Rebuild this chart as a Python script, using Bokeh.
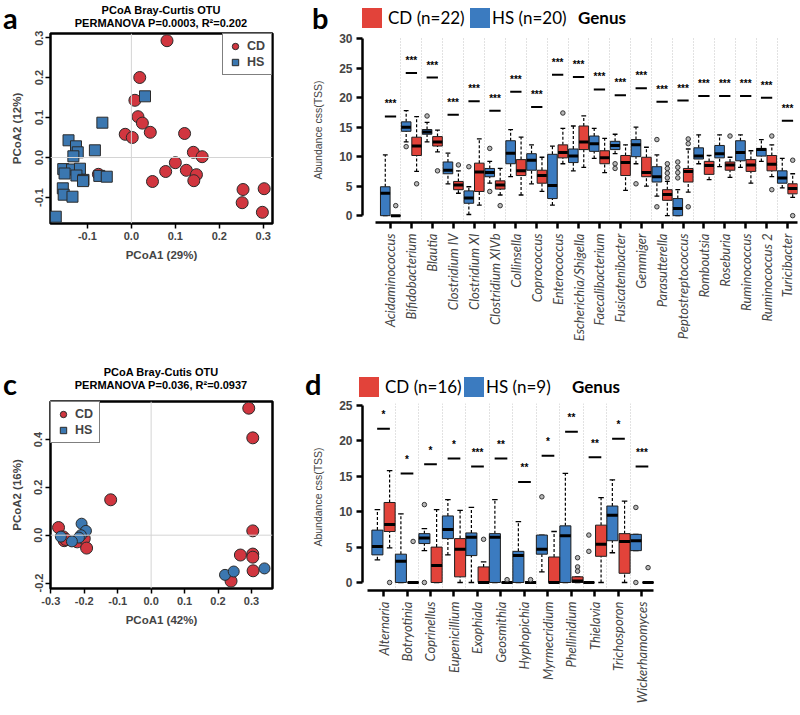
import math
from bokeh.plotting import figure
from bokeh.models import (Range1d, FixedTicker, PrintfTickFormatter, Span,
                          Legend, LegendItem, ColumnDataSource, Div)
from bokeh.layouts import row, column
from bokeh.embed import file_html
from bokeh.resources import INLINE

# ---------------- data : panel a ----------------
a_cd_x = [0.081, 0.019, 0.008, 0.015, 0.025, -0.014, 0.002, 0.043, 0.121, 0.141, 0.161,
          0.100, 0.078, 0.125, 0.148, 0.142, 0.048, -0.075, 0.254, 0.252, 0.302, 0.298]
a_cd_y = [0.292, 0.200, 0.143, 0.102, 0.086, 0.058, 0.050, 0.063, 0.060, 0.013, 0.002,
          -0.013, -0.035, -0.032, -0.043, -0.058, -0.060, -0.042, -0.080, -0.113, -0.078, -0.137]
a_hs_x = [0.031, -0.066, -0.143, -0.126, -0.122, -0.132, -0.083, -0.155, -0.135, -0.117,
          -0.152, -0.125, -0.109, -0.110, -0.073, -0.056, -0.156, -0.154, -0.134, -0.172]
a_hs_y = [0.153, 0.087, 0.043, 0.028, 0.013, 0.003, 0.018, -0.029, -0.030, -0.028,
          -0.040, -0.045, -0.056, -0.059, -0.046, -0.048, -0.077, -0.093, -0.098, -0.148]
a_xticks = [-0.1, 0.0, 0.1, 0.2, 0.3]
a_yticks = [-0.1, 0.0, 0.1, 0.2, 0.3]

# ---------------- data : panel c ----------------
c_cd_x = [0.292, 0.304, -0.121, -0.277, -0.263, -0.260, -0.221, -0.200, -0.193,
          0.304, 0.304, 0.304, 0.267, 0.305, 0.239, -0.255]
c_cd_y = [0.531, 0.407, 0.148, 0.032, -0.007, -0.023, -0.028, -0.014, -0.054,
          0.018, -0.079, -0.092, -0.083, -0.149, -0.192, -0.018]
c_hs_x = [-0.208, -0.195, -0.210, -0.216, -0.270, -0.237, 0.221, 0.247, 0.339]
c_hs_y = [0.048, 0.018, 0.000, -0.010, -0.006, -0.026, -0.166, -0.152, -0.139]
c_xticks = [-0.3, -0.2, -0.1, 0.0, 0.1, 0.2, 0.3]
c_yticks = [-0.2, 0.0, 0.2, 0.4]

# ---------------- data : panel b (bacteria genera) ----------------
b_genera = ["Acidaminococcus", "Bifidobacterium", "Blautia", "Clostridium IV", "Clostridium XI",
            "Clostridium XIVb", "Collinsella", "Coprococcus", "Enterococcus",
            "Escherichia/Shigella", "Faecalibacterium", "Fusicatenibacter", "Gemmiger",
            "Parasutterella", "Peptostreptococcus", "Romboutsia", "Roseburia",
            "Ruminococcus", "Ruminococcus 2", "Turicibacter"]
# [lower whisker, Q1, median, Q3, upper whisker]
b_hs = [[0, 0, 3.8, 4.9, 10.3], [12.5, 14.3, 15.0, 15.9, 17.8], [12.5, 13.8, 14.2, 14.6, 15.8],
        [5.4, 7.1, 7.7, 9.1, 10.6], [0.2, 2.1, 3.0, 4.2, 4.9], [5.5, 6.6, 7.3, 8.0, 9.2],
        [6.6, 8.8, 10.6, 12.7, 14.6], [5.4, 7.7, 9.4, 10.5, 12.0], [1.8, 2.9, 5.1, 10.4, 11.8],
        [7.6, 9.0, 10.1, 11.3, 15.2], [9.7, 10.9, 12.2, 13.5, 14.8], [10.5, 11.2, 11.9, 12.6, 13.8],
        [8.8, 10.0, 12.0, 12.9, 15.0], [3.3, 5.7, 6.6, 8.3, 10.3], [0, 0, 1.2, 2.9, 4.4],
        [8.8, 9.6, 10.1, 11.5, 13.7], [8.3, 9.8, 10.5, 11.9, 13.7], [8.2, 9.3, 10.7, 12.7, 13.7],
        [9.2, 10.1, 11.2, 11.4, 12.9], [4.7, 5.5, 6.4, 7.6, 9.7]]
b_hs_out = [[], [11.7], [16.9], [], [8.3], [11.4, 4.1], [], [], [], [], [], [8.8, 8.0], [5.4],
            [12.9, 1.5], [9.1, 8.2, 7.3, 6.4], [], [], [], [], []]
b_cd = [[0, 0, 0, 0, 0], [7.5, 10.2, 11.8, 13.3, 16.8], [10.8, 11.8, 12.5, 13.4, 14.5],
        [3.8, 4.4, 5.2, 5.8, 7.6], [1.8, 4.1, 7.4, 8.9, 13.0], [3.5, 4.5, 5.2, 5.9, 8.0],
        [3.5, 6.8, 7.6, 9.5, 13.3], [4.1, 5.5, 6.8, 7.7, 9.9], [8.8, 9.8, 10.7, 12.0, 14.8],
        [8.2, 11.2, 12.5, 15.2, 16.9], [7.3, 8.8, 9.8, 11.0, 13.1], [4.3, 6.8, 9.0, 10.2, 12.0],
        [5.0, 6.6, 7.3, 9.9, 11.6], [0, 2.6, 3.6, 4.4, 5.8], [4.0, 5.7, 7.5, 8.0, 11.3],
        [6.1, 7.0, 8.5, 9.2, 10.2], [6.5, 7.7, 8.6, 9.1, 9.9], [5.5, 7.5, 8.6, 9.5, 11.0],
        [6.6, 7.6, 8.7, 10.2, 12.0], [3.1, 3.7, 4.6, 5.4, 7.1]]
b_cd_out = [[1.7], [5.4], [7.6], [8.6], [], [1.7], [], [], [17.4], [], [], [], [],
            [8.8, 8.0, 7.2, 6.4], [13.0, 12.2, 1.5], [], [13.5], [], [13.5, 4.4], [9.4, 0.0]]
b_sig = [16.8, 24.2, 23.4, 17.1, 19.4, 17.8, 21.0, 18.4, 23.9, 23.5, 21.4, 20.4, 21.6,
         19.3, 19.5, 20.3, 20.3, 20.3, 20.0, 16.1]
b_stars = ["***"] * 20
b_yticks = [0, 5, 10, 15, 20, 25, 30]

# ---------------- data : panel d (fungal genera) ----------------
d_genera = ["Alternaria", "Botryotinia", "Coprinellus", "Eupenicillium", "Exophiala",
            "Geosmithia", "Hyphopichia", "Myrmecridium", "Phellinidium", "Thielavia",
            "Trichosporon", "Wickerhamomyces"]
d_hs = [[3.2, 3.9, 5.1, 7.4, 10.3], [0, 0, 3.0, 4.0, 9.7], [4.5, 5.5, 6.3, 6.9, 7.6],
        [3.9, 6.2, 7.5, 9.4, 11.7], [0, 3.8, 6.4, 7.0, 10.6], [0, 0, 6.4, 6.9, 11.7],
        [0, 0, 3.8, 4.4, 8.6], [1.5, 4.0, 4.7, 6.7, 6.7], [0, 0, 6.6, 8.0, 15.4],
        [0, 0, 0, 0, 0], [4.2, 5.9, 9.5, 10.8, 14.5], [4.5, 4.5, 5.9, 6.8, 6.8]]
d_hs_out = [[], [], [11.0, 0.0], [], [], [], [], [12.1], [], [6.7, 4.4], [], [10.6, 0.0]]
d_cd = [[4.9, 7.2, 8.2, 11.3, 15.8], [0, 0, 0, 0, 0], [0, 0, 2.4, 5.0, 10.3],
        [0, 0.8, 4.7, 6.2, 10.2], [0, 0, 0, 2.2, 2.9], [0, 0, 0, 0, 0], [0, 0, 0, 0, 0],
        [0, 0, 0, 3.6, 7.2], [0, 0, 0.2, 0.8, 0.8], [0, 3.7, 5.4, 8.1, 12.0],
        [0, 1.3, 5.8, 6.9, 11.5], [0, 0, 0, 0, 0]]
d_cd_out = [[0.0], [5.8], [], [], [6.1], [0.4], [0.4], [], [3.5, 2.2, 1.6], [], [], [2.1]]
d_sig = [21.7, 15.4, 16.7, 17.5, 16.4, 17.5, 14.2, 17.9, 21.3, 17.7, 20.3, 16.4]
d_stars = ["*", "*", "*", "*", "***", "**", "**", "*", "**", "**", "*", "***"]
d_yticks = [0, 5, 10, 15, 20, 25]

# ---------------- style ----------------
ARIAL = "Liberation Sans"
CAL = "Lato"
RED_PT, BLUE_PT = "#d1363f", "#3b77b0"
RED_BOX, BLUE_BOX = "#e2433a", "#3b7bc0"
LEFT_W, RIGHT_W = 285, 513


def span(left, top, text, font, size, weight="normal", lh=None, extra=""):
    lh = lh or size * 1.2
    return (f'<span style="position:absolute;left:{left}px;top:{top}px;white-space:nowrap;'
            f'font-family:\'{font}\';font-size:{size}px;font-weight:{weight};'
            f'line-height:{lh}px;color:#000;{extra}">{text}</span>')


def square(left, top, color):
    return (f'<span style="position:absolute;left:{left}px;top:{top}px;width:20px;'
            f'height:20px;background:{color};"></span>')


def header(w, h, parts):
    html = (f'<div style="position:relative;width:{w}px;height:{h}px;overflow:visible;">'
            + "".join(parts) + "</div>")
    return Div(text=html, width=w, height=h, margin=(0, 0, 0, 0))


def pcoa_header(letter, t1, t2, h, let_top, title_top):
    return header(LEFT_W, h, [
        span(3, let_top, letter, CAL, 29, "bold", 29),
        span(61, title_top, f"{t1}<br>{t2}", ARIAL, 11, "bold", 13,
             "width:200px;text-align:center;"),
    ])


def box_header(letter, n_cd, n_hs, h, let_x, let_top, sq_x, sq_top, txt_top, x_hs, x_gen):
    return header(RIGHT_W, h, [
        span(let_x, let_top, letter, CAL, 29, "bold", 29),
        square(sq_x, sq_top, RED_BOX),
        span(sq_x + 26, txt_top, f"CD (n={n_cd})", CAL, 17, "normal", 20),
        square(x_hs, sq_top, BLUE_BOX),
        span(x_hs + 22, txt_top, f"HS (n={n_hs})", CAL, 17, "normal", 20),
        span(x_gen, txt_top, "Genus", CAL, 17, "bold", 20),
    ])


def pcoa_panel(xlab, ylab, xr, yr, xt, yt, cdx, cdy, hsx, hsy, hs_marker, leg_loc, h,
               top, frame_bottom):
    p = figure(width=LEFT_W, height=h, x_range=Range1d(*xr), y_range=Range1d(*yr),
               output_backend="svg", toolbar_location=None, title=None,
               min_border_left=50, min_border_right=13, min_border_top=top,
               min_border_bottom=h - frame_bottom)
    p.xgrid.visible = False
    p.ygrid.visible = False
    p.outline_line_color = "black"
    p.outline_line_width = 2.5
    p.outline_line_alpha = 1.0
    p.add_layout(Span(location=0, dimension="width", line_color="#d4d4d4", line_width=1))
    p.add_layout(Span(location=0, dimension="height", line_color="#d4d4d4", line_width=1))
    for ax in (p.xaxis[0], p.yaxis[0]):
        ax.axis_line_color = None
        ax.major_tick_out = 5
        ax.major_tick_in = 0
        ax.minor_tick_out = 0
        ax.minor_tick_in = 0
        ax.major_tick_line_width = 1.5
        ax.major_label_text_font = ARIAL
        ax.major_label_text_font_style = "bold"
        ax.major_label_text_font_size = "11px"
        ax.major_label_standoff = 3
        ax.axis_label_text_font = ARIAL
        ax.axis_label_text_font_style = "bold"
        ax.axis_label_text_font_size = "11.5px"
        ax.formatter = PrintfTickFormatter(format="%.1f")
    p.xaxis.axis_label_standoff = 6
    p.yaxis.axis_label_standoff = 9
    p.xaxis.ticker = FixedTicker(ticks=xt)
    p.yaxis.ticker = FixedTicker(ticks=yt)
    p.yaxis.major_label_orientation = "vertical"
    p.xaxis.axis_label = xlab
    p.yaxis.axis_label = ylab

    r_cd = p.scatter(cdx, cdy, marker="circle", size=12, fill_color=RED_PT,
                     line_color="#2a2a2a", line_width=1)
    r_hs = p.scatter(hsx, hsy, marker=hs_marker, size=11, fill_color=BLUE_PT,
                     line_color="#2a2a2a", line_width=1)
    r_leg = r_hs
    if hs_marker != "square":
        r_leg = p.scatter(hsx, hsy, marker="square", size=11, fill_color=BLUE_PT,
                          line_color="#2a2a2a", line_width=1, visible=False)
    leg = Legend(items=[LegendItem(label="CD", renderers=[r_cd]),
                        LegendItem(label="HS", renderers=[r_leg])],
                 location=leg_loc, border_line_color="black", border_line_width=1.5,
                 label_text_font=ARIAL, label_text_font_style="bold",
                 label_text_font_size="12.5px", glyph_width=16, glyph_height=16,
                 label_height=16, padding=4, spacing=0, margin=0, label_standoff=4,
                 background_fill_alpha=1.0, inactive_fill_alpha=0)
    p.add_layout(leg)
    return p


def box_panel(names, hs, hs_out, cd, cd_out, sig, stars, yt, xr, yr, h,
              left, right, top, bottom, bw, off):
    p = figure(width=RIGHT_W, height=h, x_range=Range1d(*xr), y_range=Range1d(*yr),
               output_backend="svg", toolbar_location=None, title=None,
               min_border_left=left, min_border_right=right, min_border_top=top,
               min_border_bottom=bottom)
    p.outline_line_color = None
    p.ygrid.visible = False
    n = len(names)
    cats = list(range(1, n + 1))
    p.xgrid.ticker = FixedTicker(ticks=[c + 0.5 for c in cats[:-1]])
    p.xgrid.grid_line_color = "#c4c4c4"
    p.xgrid.grid_line_dash = "1 2"
    p.xgrid.grid_line_width = 1

    for stats, outs, o, col in ((hs, hs_out, -off, BLUE_BOX), (cd, cd_out, off, RED_BOX)):
        xs = [c + o for c in cats]
        src = ColumnDataSource(dict(
            x=xs, xl=[x - bw / 2 for x in xs], xr=[x + bw / 2 for x in xs],
            cl=[x - bw / 4 for x in xs], cr=[x + bw / 4 for x in xs],
            lo=[s[0] for s in stats], q1=[s[1] for s in stats], md=[s[2] for s in stats],
            q3=[s[3] for s in stats], hi=[s[4] for s in stats]))
        p.segment("x", "q3", "x", "hi", source=src, line_color="black", line_width=1.2,
                  line_dash="3 2")
        p.segment("x", "lo", "x", "q1", source=src, line_color="black", line_width=1.2,
                  line_dash="3 2")
        p.segment("cl", "hi", "cr", "hi", source=src, line_color="black", line_width=1.3)
        p.segment("cl", "lo", "cr", "lo", source=src, line_color="black", line_width=1.3)
        p.vbar(x="x", width=bw, bottom="q1", top="q3", source=src, fill_color=col,
               line_color="#1e1e1e", line_width=1)
        p.segment("xl", "md", "xr", "md", source=src, line_color="black", line_width=3)
        ox = [x for x, o_ in zip(xs, outs) for _ in o_]
        oy = [v for o_ in outs for v in o_]
        p.scatter(ox, oy, marker="circle", size=4.5, fill_color="#b8b8b8",
                  line_color="#333333", line_width=1)

    p.segment([c - 0.27 for c in cats], sig, [c + 0.27 for c in cats], sig,
              line_color="black", line_width=2)
    p.text([float(c) for c in cats], [s + 1.2 for s in sig], text=stars, text_align="center",
           text_baseline="bottom", text_font_size="10px", text_font_style="bold",
           text_color="black")

    p.yaxis.ticker = FixedTicker(ticks=yt)
    p.yaxis.bounds = (yt[0], yt[-1])
    p.xaxis.ticker = FixedTicker(ticks=cats)
    p.xaxis.bounds = (0.3, n + 0.5)
    p.xaxis.major_label_overrides = {c: nm for c, nm in zip(cats, names)}
    p.xaxis.major_label_orientation = math.pi / 2
    p.xaxis.major_label_text_font = CAL
    p.xaxis.major_label_text_font_style = "italic"
    p.xaxis.major_label_text_font_size = "13px"
    p.xaxis.major_label_standoff = 5
    for ax in (p.xaxis[0], p.yaxis[0]):
        ax.axis_line_width = 2.5
        ax.axis_line_color = "black"
        ax.major_tick_out = 6
        ax.major_tick_in = 0
        ax.major_tick_line_width = 2.5
        ax.minor_tick_out = 0
        ax.minor_tick_in = 0
    p.yaxis.major_label_text_font = ARIAL
    p.yaxis.major_label_text_font_style = "bold"
    p.yaxis.major_label_text_font_size = "12px"
    p.yaxis.major_label_standoff = 4
    p.yaxis.axis_label = "Abundance css(TSS)"
    p.yaxis.axis_label_text_font = ARIAL
    p.yaxis.axis_label_text_font_style = "normal"
    p.yaxis.axis_label_text_font_size = "10.5px"
    p.yaxis.axis_label_standoff = 12
    return p


# top row: 0-364, bottom row: 364-714
ha = pcoa_header("a", "PCoA Bray-Curtis OTU", "PERMANOVA P=0.0003, R\u00b2=0.202", 30, 3, 4)
pa = pcoa_panel("PCoA1 (29%)", "PCoA2 (12%)", (-0.184, 0.321), (-0.165, 0.31),
                a_xticks, a_yticks, a_cd_x, a_cd_y, a_hs_x, a_hs_y, "square", "top_right",
                334, 3, 193)
hc = pcoa_header("c", "PCoA Bray-Cutis OTU", "PERMANOVA P=0.036, R\u00b2=0.0937", 34, 5, 2)
pc = pcoa_panel("PCoA1 (42%)", "PCoA2 (16%)", (-0.301, 0.363), (-0.223, 0.559),
                c_xticks, c_yticks, c_cd_x, c_cd_y, c_hs_x, c_hs_y, "circle", "top_left",
                316, 3, 190)
hb = box_header("b", 22, 20, 30, 27, 3, 77, 8, 8, 185, 293)
pb = box_panel(b_genera, b_hs, b_hs_out, b_cd, b_cd_out, b_sig, b_stars, b_yticks,
               (-0.34, 20.48), (-1.16, 30.2), 334, 77, 1, 7, 142, 0.46, 0.25)
hd = box_header("d", 16, 9, 34, 20, 5, 74, 13, 13, 179, 287)
pd_ = box_panel(d_genera, d_hs, d_hs_out, d_cd, d_cd_out, d_sig, d_stars, d_yticks,
                (0.106, 18.62), (-1.13, 25.28), 316, 77, 1, 5, 124, 0.47, 0.26)

layout = row(column(ha, pa, hc, pc), column(hb, pb, hd, pd_))
open("out.html", "w").write(file_html(layout, INLINE))
